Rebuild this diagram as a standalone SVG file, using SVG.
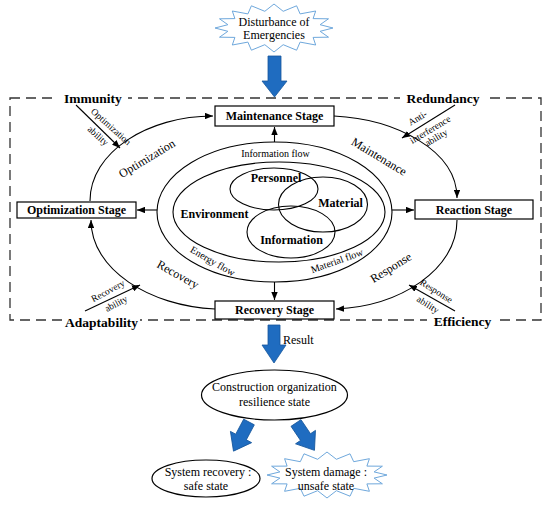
<svg xmlns="http://www.w3.org/2000/svg" width="550" height="506" viewBox="0 0 550 506">
<defs>
<marker id="ah" viewBox="0 0 10 8" refX="10" refY="4" markerWidth="8" markerHeight="6.4" orient="auto" markerUnits="userSpaceOnUse"><path d="M0,0 L10,4 L0,8 z" fill="#000"/></marker>
<style>
text{font-family:"Liberation Serif","Times New Roman",serif;fill:#000}
.b{font-weight:bold}
.s12{font-size:12px}
.s10{font-size:10px}
.s9{font-size:9.5px}
.lab{font-size:13.5px;font-weight:bold}
.box{fill:#fff;stroke:#000;stroke-width:1.2}
.ln{fill:none;stroke:#000;stroke-width:1.1}
.el{fill:none;stroke:#000;stroke-width:1.1}
.blue{fill:#1f6cc0;stroke:#17579c;stroke-width:0.8}
.star{fill:#fff;stroke:#6fa8dc;stroke-width:1}
.mid{text-anchor:middle}
</style>
</defs>
<rect width="550" height="506" fill="#fff"/>

<g id="frame">
<rect x="10" y="98" width="531" height="222" fill="none" stroke="#333" stroke-width="1.3" stroke-dasharray="10,6"/>
<rect x="58" y="90" width="70" height="16" fill="#fff"/>
<rect x="400" y="90" width="87" height="16" fill="#fff"/>
<rect x="63" y="314" width="77" height="16" fill="#fff"/>
<rect x="427" y="313" width="71" height="16" fill="#fff"/>
<text class="lab mid" x="93" y="103">Immunity</text>
<text class="lab mid" x="443" y="103">Redundancy</text>
<text class="lab mid" x="101.5" y="327">Adaptability</text>
<text class="lab mid" x="462.5" y="326">Efficiency</text>
</g>

<g id="connectors">
<path class="ln" d="M90,201 C90,152 148,116 213,116" marker-end="url(#ah)"/>
<path class="ln" d="M334,116 C395,119 457,150 457,198" marker-end="url(#ah)"/>
<path class="ln" d="M457,220 C457,270 400,306 336,309" marker-end="url(#ah)"/>
<path class="ln" d="M215,309 C150,306 91,270 91,220" marker-end="url(#ah)"/>
<line class="ln" x1="274.5" y1="142" x2="274.5" y2="127" marker-end="url(#ah)"/>
<line class="ln" x1="274.5" y1="282" x2="274.5" y2="300" marker-end="url(#ah)"/>
<line class="ln" x1="157" y1="210" x2="137" y2="210" marker-end="url(#ah)"/>
<line class="ln" x1="392" y1="210" x2="414" y2="210" marker-end="url(#ah)"/>
<line class="ln" x1="76" y1="105" x2="120" y2="148" marker-end="url(#ah)"/>
<line class="ln" x1="455" y1="105" x2="402" y2="138" marker-end="url(#ah)"/>
<line class="ln" x1="85" y1="311" x2="140" y2="285" marker-end="url(#ah)"/>
<line class="ln" x1="455" y1="311" x2="409" y2="285" marker-end="url(#ah)"/>
<path class="blue" d="M268,56 H281 V81 H287 L274.5,97 L262,81 H268 Z"/>
<path class="blue" d="M268,325 H280 V345 H286 L274,363 L262,345 H268 Z"/>
<path class="blue" transform="translate(249,422) rotate(28)" d="M-6,0 H6 V17 H12 L0,33 L-12,17 H-6 Z"/>
<path class="blue" transform="translate(296,423) rotate(-34)" d="M-6,0 H6 V17 H12 L0,33 L-12,17 H-6 Z"/>
</g>

<g id="stage-labels">
<text class="s12 mid" transform="translate(149,162) rotate(-31)">Optimization</text>
<text class="s12 mid" transform="translate(377,160) rotate(31)">Maintenance</text>
<text class="s12 mid" transform="translate(176,278) rotate(29)">Recovery</text>
<text class="s12 mid" transform="translate(393,271) rotate(-32)">Response</text>
<text class="s9 mid" transform="translate(109,128.9) rotate(42)">Optimization</text>
<text class="s9 mid" transform="translate(96,138) rotate(42)">ability</text>
<text class="s9 mid" transform="translate(419.2,120.7) rotate(-31)">Anti-</text>
<text class="s9 mid" transform="translate(431.8,132.3) rotate(-31)">interference</text>
<text class="s9 mid" transform="translate(437.8,140.3) rotate(-31)">ability</text>
<text class="s9 mid" transform="translate(109.4,293.6) rotate(-28)">Recovery</text>
<text class="s9 mid" transform="translate(117.6,306.4) rotate(-28)">ability</text>
<text class="s9 mid" transform="translate(434.7,293.7) rotate(32)">Response</text>
<text class="s9 mid" transform="translate(426.3,307.3) rotate(32)">ability</text>
</g>

<g id="disturbance">
<polygon class="star" points="333,28 320.1,31.3 328.5,37.2 313.1,37.4 315.7,45 300.1,42.1 296.6,50.2 283.2,44.7 274,52 264.8,44.7 251.4,50.2 247.9,42.1 232.3,45 234.9,37.4 219.5,37.2 227.9,31.3 215,28 227.9,24.7 219.5,18.8 234.9,18.6 232.3,11 247.9,13.9 251.4,5.8 264.8,11.3 274,4 283.2,11.3 296.6,5.8 300.1,13.9 315.7,11 313.1,18.6 328.5,18.8 320.1,24.7"/>
<text class="s12 mid" x="274" y="26">Disturbance of</text>
<text class="s12 mid" x="274" y="38.5">Emergencies</text>
</g>

<g id="maintenance-stage">
<rect class="box" x="215" y="106" width="119" height="20"/>
<text class="s12 b mid" x="274.5" y="120">Maintenance Stage</text>
</g>
<g id="optimization-stage">
<rect class="box" x="17" y="202" width="119" height="16"/>
<text class="s12 b mid" x="76.5" y="214">Optimization Stage</text>
</g>
<g id="reaction-stage">
<rect class="box" x="415" y="200" width="118" height="19"/>
<text class="s12 b mid" x="474" y="214">Reaction Stage</text>
</g>
<g id="recovery-stage">
<rect class="box" x="215" y="301" width="119" height="18"/>
<text class="s12 b mid" x="274.5" y="314">Recovery Stage</text>
</g>

<g id="system">
<ellipse class="el" cx="274.5" cy="212" rx="117.5" ry="70"/>
<ellipse class="el" cx="279" cy="212" rx="106" ry="50"/>
<text class="s10 mid" x="275.5" y="156.5">Information flow</text>
<text class="s10 mid" transform="translate(211,264) rotate(30)">Energy flow</text>
<text class="s10 mid" transform="translate(338,264) rotate(-19.5)">Material flow</text>
<text class="s12 b mid" x="214.5" y="217.5">Environment</text>
</g>
<g id="personnel">
<ellipse class="el" cx="274" cy="189" rx="44" ry="21"/>
<text class="s12 b mid" x="276" y="181.5">Personnel</text>
</g>
<g id="material">
<ellipse class="el" cx="323" cy="204.5" rx="44.5" ry="27.5"/>
<text class="s12 b mid" x="340.5" y="207">Material</text>
</g>
<g id="information">
<ellipse class="el" cx="291" cy="232" rx="44" ry="26"/>
<text class="s12 b mid" x="291.5" y="243.5">Information</text>
</g>

<g id="result">
<text class="s12" x="283" y="344">Result</text>
</g>

<g id="resilience-state">
<ellipse class="box" cx="274.5" cy="395" rx="73" ry="25"/>
<text class="s12 mid" x="274.5" y="391">Construction organization</text>
<text class="s12 mid" x="274.5" y="406">resilience state</text>
</g>

<g id="safe-state">
<ellipse class="box" cx="206" cy="478.5" rx="54" ry="18.5"/>
<text class="s12 mid" x="208" y="476">System recovery :</text>
<text class="s12 mid" x="206" y="490">safe state</text>
</g>

<g id="unsafe-state">
<polygon class="star" points="387,475 374.1,478.1 382.4,483.8 366.9,483.9 369.4,491.3 353.7,488.3 350,496.2 336.4,490.7 327,498 317.6,490.7 304,496.2 300.3,488.3 284.6,491.3 287.1,483.9 271.6,483.8 279.9,478.1 267,475 279.9,471.9 271.6,466.2 287.1,466.1 284.6,458.7 300.3,461.7 304,453.8 317.6,459.3 327,452 336.4,459.3 350,453.8 353.7,461.7 369.4,458.7 366.9,466.1 382.4,466.2 374.1,471.9"/>
<text class="s12 mid" x="326" y="475.5">System damage :</text>
<text class="s12 mid" x="326" y="489.5">unsafe state</text>
</g>
</svg>
